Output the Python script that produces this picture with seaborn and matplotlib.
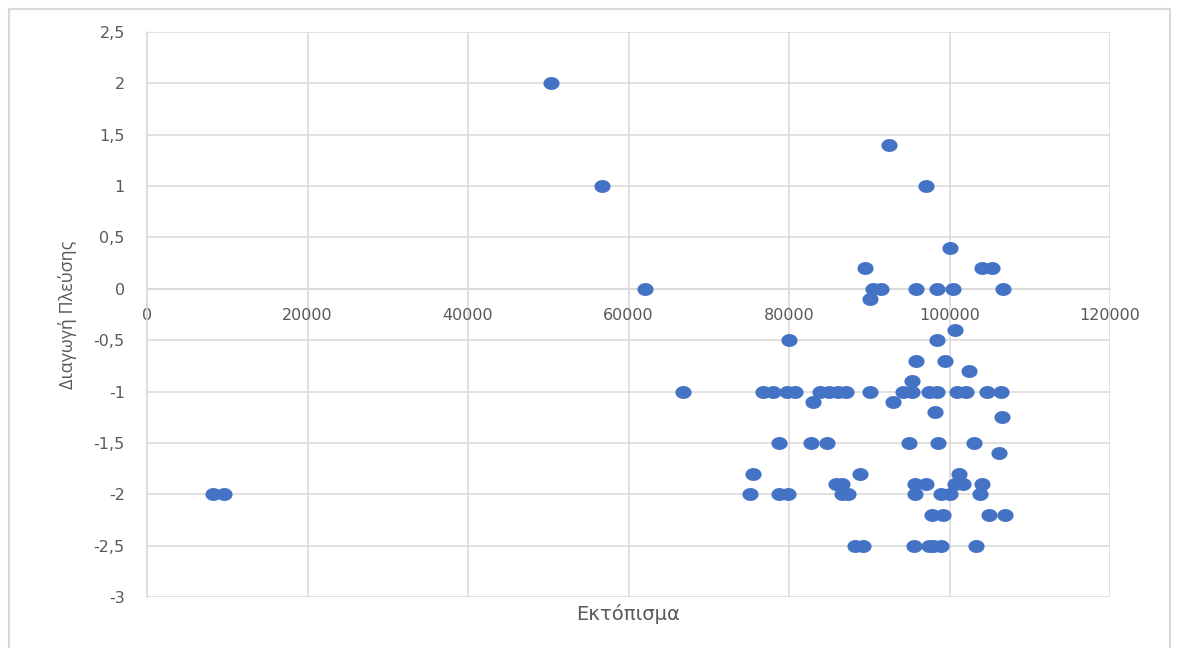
import numpy as np
import matplotlib
matplotlib.use("Agg")
import matplotlib.pyplot as plt
from matplotlib.path import Path
from matplotlib.lines import Line2D
from matplotlib.ticker import FuncFormatter
import seaborn as sns

# Displacement (Εκτόπισμα) per vessel and its conduct score (Διαγωγή Πλεύσης)
displacement = [
    8200, 9600,
    50300, 56700, 62100, 66800,
    92500, 97100, 100100,
    89500, 104100, 105300,
    90500, 91500, 95800, 98400, 100400, 106700,
    90100,
    100700,
    80000, 98500,
    95800, 99500,
    102400,
    95300,
    76700, 78000, 79700, 80700, 83900, 85000, 86100, 87100, 90100,
    94200, 95300, 97400, 98400, 100900, 102100, 104700, 106400,
    83000, 93000,
    98200,
    106500,
    78700, 82800, 84700, 95000, 98600, 103000,
    106200,
    75500, 88800, 101200,
    85800, 86600, 95700, 97100, 100700, 101700, 104100,
    75100, 78700, 79900, 86600, 87300, 95700, 99000, 100000, 103800,
    97800, 99200, 104900, 106900,
    88200, 89200, 95600, 97400, 98000, 98900, 103300,
]
conduct = [
    -2, -2,
    2, 1, 0, -1,
    1.4, 1, 0.4,
    0.2, 0.2, 0.2,
    0, 0, 0, 0, 0, 0,
    -0.1,
    -0.4,
    -0.5, -0.5,
    -0.7, -0.7,
    -0.8,
    -0.9,
    -1, -1, -1, -1, -1, -1, -1, -1, -1,
    -1, -1, -1, -1, -1, -1, -1, -1,
    -1.1, -1.1,
    -1.2,
    -1.25,
    -1.5, -1.5, -1.5, -1.5, -1.5, -1.5,
    -1.6,
    -1.8, -1.8, -1.8,
    -1.9, -1.9, -1.9, -1.9, -1.9, -1.9, -1.9,
    -2, -2, -2, -2, -2, -2, -2, -2, -2,
    -2.2, -2.2, -2.2, -2.2,
    -2.5, -2.5, -2.5, -2.5, -2.5, -2.5, -2.5,
]

x_ticks = [0, 20000, 40000, 60000, 80000, 100000, 120000]
y_ticks = [-3, -2.5, -2, -1.5, -1, -0.5, 0, 0.5, 1, 1.5, 2, 2.5]

POINT_COLOR = "#4472C4"
GRID_COLOR = "#d9d9d9"
TEXT_COLOR = "#595959"

sns.set_theme(style="white")
plt.rcParams["font.family"] = ["DejaVu Sans"]

fig = plt.figure(figsize=(11.78, 6.48), dpi=100)
ax = fig.add_axes([147 / 1178, 1 - 597 / 648, 963 / 1178, 565 / 648])

# slightly flattened round marker
t = np.linspace(0, 2 * np.pi, 60)
ellipse = Path(np.column_stack([np.cos(t), 0.8 * np.sin(t)]), closed=True)

sns.scatterplot(x=displacement, y=conduct, ax=ax, marker=ellipse, s=135,
                color=POINT_COLOR, edgecolor=POINT_COLOR, linewidth=0,
                zorder=3, clip_on=False)

ax.set_xlim(0, 120000)
ax.set_ylim(-3, 2.5)
ax.set_xticks(x_ticks)
ax.set_yticks(y_ticks)
ax.yaxis.set_major_formatter(FuncFormatter(lambda v, _: f"{v:g}".replace(".", ",")))
ax.xaxis.set_major_formatter(FuncFormatter(lambda v, _: f"{int(v)}"))

ax.grid(True, color=GRID_COLOR, linewidth=1.1)
ax.set_axisbelow(True)

for side in ["top", "right"]:
    ax.spines[side].set_visible(False)
ax.spines["left"].set_color(GRID_COLOR)
ax.spines["left"].set_linewidth(1.1)
ax.spines["bottom"].set_position(("data", 0))
ax.spines["bottom"].set_color(GRID_COLOR)
ax.spines["bottom"].set_linewidth(1.1)

ax.tick_params(axis="x", length=0, pad=14, labelsize=11.5, labelcolor=TEXT_COLOR)
ax.tick_params(axis="y", length=0, pad=16, labelsize=11.5, labelcolor=TEXT_COLOR)

ax.set_xlabel("Εκτόπισμα", fontsize=14, color=TEXT_COLOR)
ax.xaxis.set_label_coords(0.5, -0.012)
ax.xaxis.label.set_va("top")
ax.set_ylabel("Διαγωγή Πλεύσης", fontsize=13, color=TEXT_COLOR,
              family=["Open Sans", "DejaVu Sans"])
ax.yaxis.set_label_coords(-0.073, 0.5)

# chart-area frame
for xs, ys in [((9, 9), (0, 639)), ((9, 1170), (639, 639)), ((1170, 1170), (0, 639))]:
    fig.add_artist(Line2D([x / 1178 for x in xs], [y / 648 for y in ys],
                          color=GRID_COLOR, linewidth=1.5))

fig.savefig("out.png", dpi=100)
